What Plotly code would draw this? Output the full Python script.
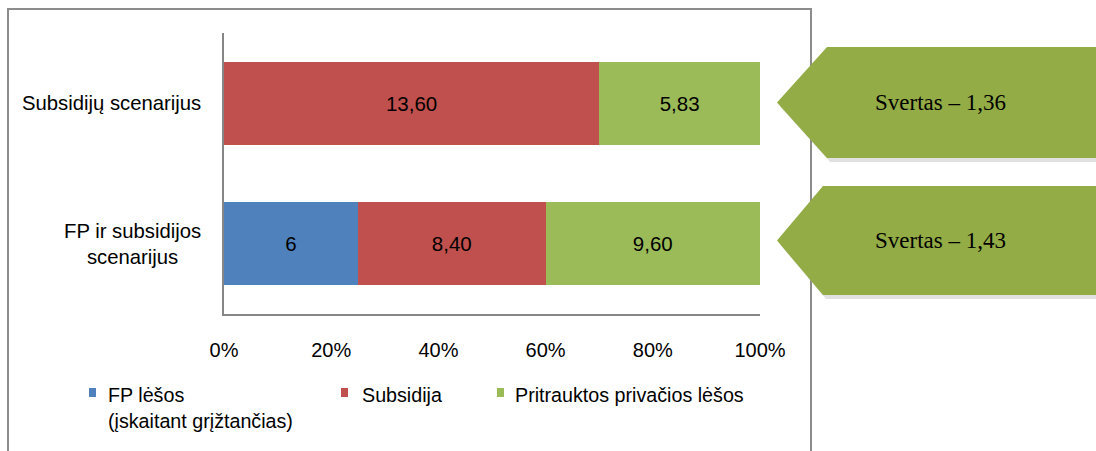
import plotly.graph_objects as go

# ------------------------------------------------------------------ #
# Data                                                                #
# ------------------------------------------------------------------ #
categories = ["FP ir subsidijos scenarijus", "Subsidijų scenarijus"]
category_labels = ["FP ir subsidijos<br>scenarijus", "Subsidijų scenarijus"]

series_names = ["FP lėšos<br>(įskaitant grįžtančias)", "Subsidija", "Pritrauktos privačios lėšos"]
fp_values = [6.0, 0.0]
subsidy_values = [8.40, 13.60]
private_values = [9.60, 5.83]
fp_text = ["6", ""]
subsidy_text = ["8,40", "13,60"]
private_text = ["9,60", "5,83"]

leverage_labels = ["Svertas – 1,43", "Svertas – 1,36"]

colors = ["#4F81BD", "#C0504D", "#9BBB59"]

# ------------------------------------------------------------------ #
# Geometry helpers (pixel -> paper)                                   #
# ------------------------------------------------------------------ #
W, H = 1096, 451
L, R, T, B = 224, 760, 33, 314


def px(x):
    return (x - L) / (R - L)


def py(y):
    return (B - y) / (B - T)


FONT = "Liberation Sans, Arial, sans-serif"

fig = go.Figure()
for name, vals, txt, col in zip(
    series_names,
    [fp_values, subsidy_values, private_values],
    [fp_text, subsidy_text, private_text],
    colors,
):
    fig.add_trace(
        go.Bar(
            y=categories,
            x=vals,
            orientation="h",
            name=name,
            marker={"color": col, "line": {"width": 0}},
            text=txt,
            textposition="inside",
            insidetextanchor="middle",
            textfont={"family": FONT, "size": 20.5, "color": "#000000"},
            showlegend=False,
        )
    )

shapes = []
annotations = []

# outer chart border (partly hidden by the arrows)
shapes.append(dict(
    type="rect", xref="paper", yref="paper",
    x0=px(8), x1=px(811), y0=py(470), y1=py(9),
    line={"color": "#8C8C8C", "width": 2}, layer="below",
))

# leverage arrows (pentagons pointing left)
arrow_boxes = [(186, 295, 823), (47, 158, 827)]
for (top, bot, corner), label in zip(arrow_boxes, leverage_labels):
    mid = (top + bot) / 2
    for dx, dy, fill, op in [(3, 4, "#9A9A9A", 0.3), (0, 0, "#93AC46", 1.0)]:
        pts = [(777 + dx, mid + dy), (corner + dx, top + dy), (1110, top + dy),
               (1110, bot + dy), (corner + dx, bot + dy)]
        path = "M " + " L ".join(f"{px(a):.5f},{py(b):.5f}" for a, b in pts) + " Z"
        shapes.append(dict(
            type="path", xref="paper", yref="paper", path=path,
            fillcolor=fill, opacity=op, line={"width": 0}, layer="above",
        ))
    annotations.append(dict(
        xref="paper", yref="paper", x=px(940), y=py(mid),
        text=label, showarrow=False, xanchor="center", yanchor="middle",
        font={"family": "Liberation Serif, Times New Roman, serif", "size": 23, "color": "#000000"},
    ))

# category labels
for cat, lab in zip(categories, category_labels):
    annotations.append(dict(
        xref="paper", yref="y", x=px(203), y=cat,
        text=lab, showarrow=False, xanchor="right", yanchor="middle", align="center",
        font={"family": FONT, "size": 20.3, "color": "#000000"},
    ))

# manual legend
legend_pos = [(89, 106), (341, 360), (497, 513)]
for (sq, tx), name, col in zip(legend_pos, series_names, colors):
    shapes.append(dict(
        type="rect", xref="paper", yref="paper",
        x0=px(sq), x1=px(sq + 7), y0=py(397), y1=py(388),
        fillcolor=col, line={"width": 0},
    ))
    annotations.append(dict(
        xref="paper", yref="paper", x=px(tx), y=py(382),
        text=name, showarrow=False, xanchor="left", yanchor="top", align="left",
        font={"family": FONT, "size": 19.7, "color": "#000000"},
    ))

fig.update_layout(
    barmode="stack",
    barnorm="percent",
    bargap=0.41,
    width=W,
    height=H,
    margin={"l": L, "r": W - R, "t": T, "b": H - B},
    paper_bgcolor="#FFFFFF",
    plot_bgcolor="#FFFFFF",
    shapes=shapes,
    annotations=annotations,
    showlegend=False,
    font={"family": FONT, "size": 19.5, "color": "#000000"},
    xaxis={
        "range": [0, 100],
        "tickvals": [0, 20, 40, 60, 80, 100],
        "ticktext": ["0%", "20%", "40%", "60%", "80%", "100%"],
        "showgrid": False,
        "zeroline": False,
        "showline": True,
        "linecolor": "#868686",
        "linewidth": 2,
        "ticks": "",
        "ticklabelstandoff": 17,
        "tickfont": {"family": FONT, "size": 20, "color": "#000000"},
        "fixedrange": True,
    },
    yaxis={
        "categoryorder": "array",
        "categoryarray": categories,
        "showticklabels": False,
        "showgrid": False,
        "zeroline": False,
        "showline": True,
        "linecolor": "#868686",
        "linewidth": 2,
        "ticks": "",
        "fixedrange": True,
    },
)

# page body has a default 8px margin; drop it so the chart fills the window
fig.write_html(
    "out.html",
    config={"displayModeBar": False},
    post_script="document.body.style.margin='0';document.body.style.overflow='hidden';",
)
